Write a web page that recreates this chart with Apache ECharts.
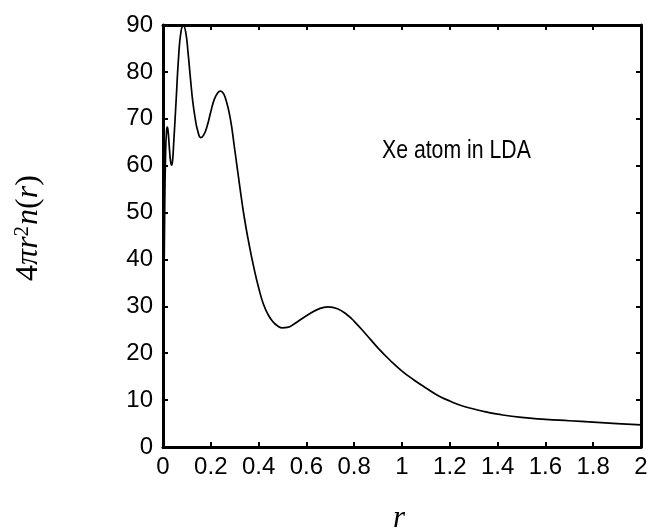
<!DOCTYPE html>
<html>
<head>
<meta charset="utf-8">
<script src="https://cdn.jsdelivr.net/npm/echarts@6/dist/echarts.min.js"></script>
<style>html,body{margin:0;padding:0;background:#fff;}#c{width:651px;height:532px;}</style>
</head>
<body>
<div id="c"></div>
<script>
var rValues = [0, 0.003, 0.007, 0.011, 0.015, 0.018, 0.022, 0.027, 0.032, 0.036, 0.04, 0.045, 0.055, 0.065, 0.075, 0.085, 0.095, 0.105, 0.115, 0.125, 0.135, 0.145, 0.158, 0.17, 0.185, 0.2, 0.215, 0.23, 0.24, 0.25, 0.26, 0.28, 0.30, 0.32, 0.34, 0.36, 0.38, 0.40, 0.42, 0.44, 0.46, 0.48, 0.50, 0.52, 0.55, 0.60, 0.65, 0.69, 0.73, 0.77, 0.80, 0.85, 0.90, 0.95, 1.00, 1.05, 1.10, 1.15, 1.20, 1.25, 1.30, 1.35, 1.40, 1.50, 1.60, 1.70, 1.80, 1.90, 2.00];
var densityValues = [0, 25, 50, 63, 67.5, 68.2, 67, 63.5, 60.8, 60.1, 61, 65, 74, 83, 88.5, 89.8, 88.5, 84, 78.5, 73.5, 70, 67.5, 66, 66.5, 68.5, 71.5, 74.2, 75.6, 75.9, 75.6, 74.6, 70.5, 63.5, 56, 49, 43.3, 38.3, 34, 30.5, 28.2, 26.7, 25.8, 25.4, 25.5, 26.3, 28, 29.4, 29.9, 29.5, 28.2, 26.8, 24, 21.1, 18.5, 16.2, 14.3, 12.6, 11.0, 9.8, 8.8, 8.1, 7.5, 7.0, 6.3, 5.9, 5.6, 5.3, 5.0, 4.7];
var xTicks = ['0', '0.2', '0.4', '0.6', '0.8', '1', '1.2', '1.4', '1.6', '1.8', '2'];
var yTicks = ['0', '10', '20', '30', '40', '50', '60', '70', '80', '90'];
var annotation = 'Xe atom in LDA';

var points = rValues.map(function (r, i) { return [r, densityValues[i]]; });
var labelFont = '"Liberation Sans", Arial, sans-serif';
var serif = '"Liberation Serif", "DejaVu Serif", serif';
var axisLine = { show: true, onZero: false, lineStyle: { color: '#000', width: 3 } };
var axisTick = { show: true, inside: true, length: 5, lineStyle: { color: '#000', width: 2 } };

var chart = echarts.init(document.getElementById('c'), null, { renderer: 'canvas' });
chart.setOption({
  animation: false,
  backgroundColor: '#fff',
  grid: { left: 163, right: 10, top: 25, bottom: 85, containLabel: false },
  xAxis: [{
    type: 'value', position: 'bottom', min: 0, max: 2, interval: 0.2,
    axisLine: axisLine, axisTick: axisTick, splitLine: { show: false },
    axisLabel: { color: '#000', fontSize: 24, fontFamily: labelFont, margin: 8,
      formatter: function (v) { return xTicks[Math.round(v / 0.2)]; } }
  }, {
    type: 'value', position: 'top', min: 0, max: 2, interval: 0.2,
    axisLine: axisLine, axisTick: axisTick, splitLine: { show: false }, axisLabel: { show: false }
  }],
  yAxis: [{
    type: 'value', position: 'left', min: 0, max: 90, interval: 10,
    axisLine: axisLine, axisTick: axisTick, splitLine: { show: false },
    axisLabel: { color: '#000', fontSize: 24, fontFamily: labelFont, margin: 10,
      formatter: function (v) { return yTicks[Math.round(v / 10)]; } }
  }, {
    type: 'value', position: 'right', min: 0, max: 90, interval: 10,
    axisLine: axisLine, axisTick: axisTick, splitLine: { show: false }, axisLabel: { show: false }
  }],
  series: [{
    type: 'line', data: points, smooth: 0.5, symbol: 'none', clip: true,
    lineStyle: { color: '#000', width: 1.7 }
  }],
  graphic: [
    { type: 'text', x: 382, y: 151, scaleX: 0.85,
      style: { text: annotation, fontSize: 25, fontFamily: labelFont, fill: '#000', verticalAlign: 'middle' } },
    { type: 'text', x: 29, y: 228, rotation: Math.PI / 2,
      style: { text: '{n|4}{i|πr}{s|2}{i|n}{n|(}{i|r}{n|)}', align: 'center', verticalAlign: 'middle',
        rich: {
          n: { fontSize: 32, fontFamily: serif, fill: '#000' },
          i: { fontSize: 32, fontFamily: serif, fontStyle: 'italic', fill: '#000' },
          s: { fontSize: 21, fontFamily: serif, fill: '#000', verticalAlign: 'top', padding: [0, 1, 14, 0] }
        } } },
    { type: 'text', x: 399, y: 519, style: { text: 'r', align: 'center', verticalAlign: 'middle', fontSize: 31,
      fontFamily: serif, fontStyle: 'italic', fill: '#000' } }
  ]
});
</script>
</body>
</html>
